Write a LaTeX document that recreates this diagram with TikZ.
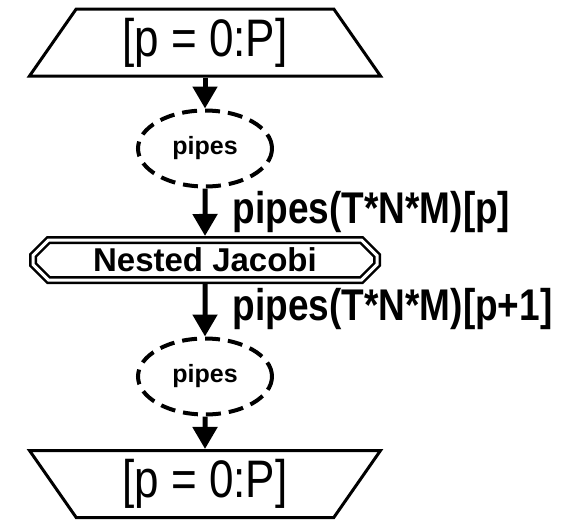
\documentclass[tikz,border=0pt]{standalone}
\usepackage{fontspec}
\usepackage{graphicx}
\setmainfont{Liberation Sans}
\usetikzlibrary{positioning,shapes.geometric,shapes.misc,arrows.meta}

% taller lettering, as in the reference
\newcommand{\tallt}[1]{\scalebox{1}[1.2]{#1}}

\begin{document}
\begin{tikzpicture}[
        x=1pt, y=1pt,
        loopbox/.style={trapezium, draw, line width=3pt, trapezium angle=46.5, trapezium stretches body, minimum width=351pt, minimum height=67pt, inner sep=0pt, font=\fontsize{44}{46}\selectfont},
        pipebox/.style={ellipse, draw, line width=4pt, dash pattern=on 15pt off 8pt, minimum width=134pt, minimum height=76pt, inner sep=0pt, font=\bfseries\fontsize{25}{27}\selectfont},
        taskbox/.style={chamfered rectangle, draw, line width=2.5pt, double, double distance=3pt, chamfered rectangle xsep=12pt, minimum width=344pt, minimum height=40pt, inner sep=0pt, outer sep=4pt, font=\bfseries\fontsize{33}{35}\selectfont},
        flow/.style={draw, line width=5pt, -{Triangle[width=24pt,length=22pt]}},
        edgelabel/.style={right, xshift=22pt, font=\bfseries\fontsize{37}{39}\selectfont}
    ]
        \useasboundingbox (0,0) rectangle (568,-520);
        \node [loopbox] (loopin) at (205,-42.5) {\tallt{[p = 0:P]}};
        \node [pipebox, below of=loopin, node distance=106pt] (pipesin) {pipes};
        \node [taskbox, below of=pipesin, node distance=111.5pt] (jacobi) {Nested Jacobi};
        \node [pipebox, below of=jacobi, node distance=116.5pt] (pipesout) {pipes};
        \node [loopbox, shape border rotate=180, below of=pipesout, node distance=107.5pt] (loopout) {\tallt{[p = 0:P]}};

        \path [flow] (loopin) -- (pipesin);
        \path [flow] (pipesin) -- node[edgelabel] {\tallt{pipes(T*N*M)[p]}} (jacobi);
        \path [flow] (jacobi) -- node[edgelabel, pos=0.48] {\tallt{pipes(T*N*M)[p+1]}} (pipesout);
        \path [flow] (pipesout) -- (loopout);
    \end{tikzpicture}
\end{document}
